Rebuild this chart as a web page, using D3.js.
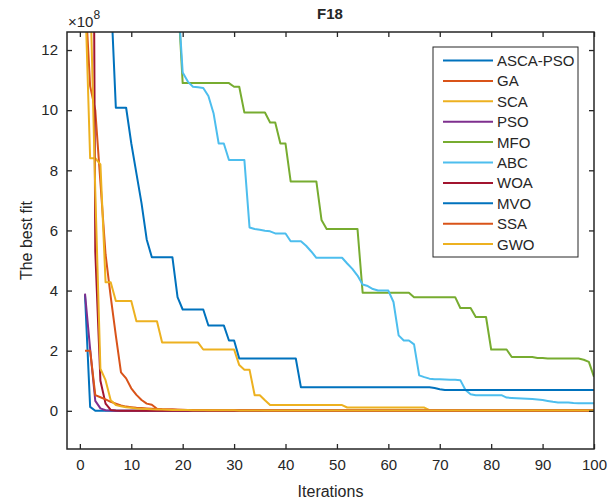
<!DOCTYPE html>
<html>
<head>
<meta charset="utf-8">
<script src="https://cdn.jsdelivr.net/npm/d3@7"></script>
<style>
body { margin: 0; background: #fff; }
text { font-family: "Liberation Sans", Arial, Helvetica, sans-serif; fill: #262626; }
</style>
</head>
<body>
<svg width="610" height="501"></svg>
<script>
// values in units of 1e8, iterations 1..100
var names = ["ASCA-PSO", "GA", "SCA", "PSO", "MFO", "ABC", "WOA", "MVO", "SSA", "GWO"];
var colors = ["#0072BD", "#D95319", "#EDB120", "#7E2F8E", "#77AC30", "#4DBEEE", "#A2142F", "#0072BD", "#D95319", "#EDB120"];
var xTicks = [0, 10, 20, 30, 40, 50, 60, 70, 80, 90, 100];
var yTicks = [0, 2, 4, 6, 8, 10, 12];

var ascaPso = [3.85,0.13,0,0,0,0,0,0,0,0, 0,0,0,0,0,0,0,0,0,0, 0,0,0,0,0,0,0,0,0,0, 0,0,0,0,0,0,0,0,0,0,
  0,0,0,0,0,0,0,0,0,0, 0,0,0,0,0,0,0,0,0,0, 0,0,0,0,0,0,0,0,0,0, 0,0,0,0,0,0,0,0,0,0,
  0,0,0,0,0,0,0,0,0,0, 0,0,0,0,0,0,0,0,0,0];
var ga = [14,10.8,10.0,7.6,5.2,3.8,2.5,1.28,1.08,0.75, 0.53,0.36,0.24,0.2,0.07,0.05,0.045,0.04,0.035,0.03,
  0.03,0.028,0.026,0.025,0.024,0.023,0.022,0.021,0.02,0.02, 0.02,0.019,0.019,0.018,0.018,0.017,0.017,0.016,0.016,0.015,
  0.015,0.015,0.014,0.014,0.014,0.013,0.013,0.013,0.012,0.012, 0.012,0.012,0.011,0.011,0.011,0.011,0.011,0.01,0.01,0.01,
  0.01,0.01,0.01,0.01,0.01,0.01,0.01,0.01,0.01,0.01, 0.01,0.01,0.01,0.01,0.01,0.01,0.01,0.01,0.01,0.01,
  0.01,0.01,0.01,0.01,0.01,0.01,0.01,0.01,0.01,0.01, 0.01,0.01,0.01,0.01,0.01,0.01,0.01,0.01,0.01,0.01];
var sca = [14,8.4,8.4,8.2,4.28,4.28,3.65,3.65,3.65,3.65, 2.98,2.98,2.98,2.98,2.98,2.27,2.27,2.27,2.27,2.27,
  2.27,2.27,2.27,2.04,2.04,2.04,2.04,2.04,2.04,2.04, 1.52,1.37,1.37,0.52,0.52,0.35,0.19,0.19,0.19,0.19,
  0.19,0.19,0.19,0.19,0.19,0.19,0.19,0.19,0.19,0.19, 0.19,0.11,0.11,0.11,0.11,0.11,0.11,0.11,0.11,0.11,
  0.11,0.11,0.11,0.11,0.11,0.11,0.11,0.02,0.02,0.02, 0.02,0.02,0.02,0.02,0.02,0.02,0.02,0.02,0.02,0.02,
  0.02,0.02,0.02,0.02,0.02,0.02,0.02,0.02,0.02,0.02, 0.02,0.02,0.02,0.02,0.02,0.02,0.02,0.02,0.02,0.02];
var pso = [3.9,2.05,0.33,0.08,0.02,0.01,0,0,0,0, 0,0,0,0,0,0,0,0,0,0, 0,0,0,0,0,0,0,0,0,0, 0,0,0,0,0,0,0,0,0,0,
  0,0,0,0,0,0,0,0,0,0, 0,0,0,0,0,0,0,0,0,0, 0,0,0,0,0,0,0,0,0,0, 0,0,0,0,0,0,0,0,0,0,
  0,0,0,0,0,0,0,0,0,0, 0,0,0,0,0,0,0,0,0,0];
var mfo = [14,14,14,14,14,14,14,14,14,14, 14,14,14,14,14,14,14,14,14,10.9,
  10.9,10.9,10.9,10.9,10.9,10.9,10.9,10.9,10.9,10.78, 10.78,9.92,9.92,9.92,9.92,9.92,9.59,9.59,8.89,8.89,
  7.63,7.63,7.63,7.63,7.63,7.63,6.35,6.05,6.05,6.05, 6.05,6.05,6.05,6.05,3.93,3.93,3.93,3.93,3.93,3.93,
  3.93,3.93,3.93,3.93,3.78,3.78,3.78,3.78,3.78,3.78, 3.78,3.78,3.78,3.42,3.42,3.42,3.12,3.12,3.12,2.04,
  2.04,2.04,2.04,1.79,1.79,1.79,1.79,1.79,1.76,1.76, 1.74,1.74,1.74,1.74,1.74,1.74,1.74,1.7,1.63,1.13];
var abc = [14,14,14,14,14,14,14,14,14,14, 14,14,14,14,14,14,14,14,14,11.25,
  10.95,10.78,10.76,10.74,10.47,9.9,8.89,8.89,8.34,8.34, 8.34,8.34,6.1,6.05,6.02,5.99,5.97,5.9,5.9,5.9,
  5.64,5.64,5.64,5.49,5.3,5.09,5.09,5.09,5.09,5.09, 5.09,4.9,4.72,4.5,4.2,4.15,4.05,4.0,4.0,4.0,
  3.62,2.51,2.34,2.34,2.21,1.18,1.12,1.07,1.05,1.05, 1.04,1.03,1.03,1.02,0.69,0.55,0.52,0.52,0.52,0.52,
  0.52,0.52,0.44,0.43,0.42,0.41,0.4,0.39,0.38,0.36, 0.33,0.3,0.28,0.28,0.28,0.26,0.25,0.25,0.25,0.25];
var woa = [40,40,5.3,1.0,0.24,0.03,0.01,0,0,0, 0,0,0,0,0,0,0,0,0,0, 0,0,0,0,0,0,0,0,0,0, 0,0,0,0,0,0,0,0,0,0,
  0,0,0,0,0,0,0,0,0,0, 0,0,0,0,0,0,0,0,0,0, 0,0,0,0,0,0,0,0,0,0, 0,0,0,0,0,0,0,0,0,0,
  0,0,0,0,0,0,0,0,0,0, 0,0,0,0,0,0,0,0,0,0];
var mvo = [14,14,14,14,14,14,10.08,10.08,10.08,8.9, 7.9,6.9,5.7,5.11,5.11,5.11,5.11,5.11,3.78,3.37,
  3.37,3.37,3.37,3.37,2.84,2.84,2.84,2.84,2.34,2.34, 1.74,1.74,1.74,1.74,1.74,1.74,1.74,1.74,1.74,1.74,
  1.74,1.74,0.78,0.78,0.78,0.78,0.78,0.78,0.78,0.78, 0.78,0.78,0.78,0.78,0.78,0.78,0.78,0.78,0.78,0.78,
  0.78,0.78,0.78,0.78,0.78,0.78,0.78,0.78,0.76,0.72, 0.69,0.69,0.69,0.69,0.69,0.69,0.69,0.69,0.69,0.69,
  0.69,0.69,0.69,0.69,0.69,0.69,0.69,0.69,0.69,0.69, 0.69,0.69,0.69,0.69,0.69,0.69,0.69,0.69,0.69,0.69];
var ssa = [2.0,2.0,0.52,0.45,0.38,0.3,0.24,0.18,0.14,0.12, 0.1,0.09,0.08,0.07,0.06,0.05,0.045,0.04,0.037,0.034,
  0.031,0.029,0.027,0.025,0.023,0.022,0.021,0.02,0.019,0.018, 0.017,0.016,0.016,0.015,0.015,0.014,0.014,0.013,0.013,0.013,
  0.012,0.012,0.012,0.011,0.011,0.011,0.011,0.01,0.01,0.01, 0.01,0.01,0.01,0.01,0.01,0.01,0.01,0.01,0.01,0.01,
  0.01,0.01,0.01,0.01,0.01,0.01,0.01,0.01,0.01,0.01, 0.01,0.01,0.01,0.01,0.01,0.01,0.01,0.01,0.01,0.01,
  0.01,0.01,0.01,0.01,0.01,0.01,0.01,0.01,0.01,0.01, 0.01,0.01,0.01,0.01,0.01,0.01,0.01,0.01,0.01,0.01];
var gwo = [14,14.2,7.3,1.4,1.02,0.35,0.19,0.15,0.12,0.1, 0.08,0.07,0.06,0.05,0.045,0.04,0.035,0.03,0.028,0.026,
  0.024,0.022,0.02,0.02,0.019,0.018,0.017,0.016,0.015,0.015, 0.014,0.014,0.013,0.013,0.012,0.012,0.012,0.011,0.011,0.011,
  0.01,0.01,0.01,0.01,0.01,0.01,0.01,0.01,0.01,0.01, 0.01,0.01,0.01,0.01,0.01,0.01,0.01,0.01,0.01,0.01,
  0.01,0.01,0.01,0.01,0.01,0.01,0.01,0.01,0.01,0.01, 0.01,0.01,0.01,0.01,0.01,0.01,0.01,0.01,0.01,0.01,
  0.01,0.01,0.01,0.01,0.01,0.01,0.01,0.01,0.01,0.01, 0.01,0.01,0.01,0.01,0.01,0.01,0.01,0.01,0.01,0.01];

var series = [ascaPso, ga, sca, pso, mfo, abc, woa, mvo, ssa, gwo];

var svg = d3.select("svg");

// plot box
var pL = 67, pR = 594, pT = 32, pB = 449;

var x = d3.scaleLinear().domain([-2.5, 100]).range([pL, pR]);
var y = d3.scaleLinear().domain([-1.27, 12.6]).range([pB, pT]);

svg.append("rect").attr("width", 610).attr("height", 501).attr("fill", "#fff");

svg.append("clipPath").attr("id", "clip")
  .append("rect").attr("x", pL).attr("y", pT).attr("width", pR - pL).attr("height", pB - pT);

// lines
var line = d3.line()
  .x((d, i) => x(i + 1))
  .y(d => y(d));

svg.append("g").attr("clip-path", "url(#clip)")
  .selectAll("path")
  .data(series)
  .enter().append("path")
  .attr("d", line)
  .attr("fill", "none")
  .attr("stroke", (d, i) => colors[i])
  .attr("stroke-width", 2)
  .attr("stroke-linejoin", "round");

// axes, MATLAB style ticks inside on all four sides
var tk = 5;
var axisColor = "#262626";

svg.append("g").attr("transform", `translate(0,${pB})`)
  .call(d3.axisBottom(x).tickValues(xTicks).tickSize(-tk).tickPadding(10))
  .call(g => g.select(".domain").remove());
svg.append("g").attr("transform", `translate(0,${pT})`)
  .call(d3.axisTop(x).tickValues(xTicks).tickSize(-tk).tickFormat(""))
  .call(g => g.select(".domain").remove());
svg.append("g").attr("transform", `translate(${pL},0)`)
  .call(d3.axisLeft(y).tickValues(yTicks).tickSize(-tk).tickPadding(9))
  .call(g => g.select(".domain").remove());
svg.append("g").attr("transform", `translate(${pR},0)`)
  .call(d3.axisRight(y).tickValues(yTicks).tickSize(-tk).tickFormat(""))
  .call(g => g.select(".domain").remove());

svg.selectAll(".tick line").attr("stroke", axisColor).attr("stroke-width", 1.3);
svg.selectAll(".tick text").style("font-size", "15px").attr("fill", axisColor)
  .style("font-family", "'Liberation Sans', Arial, sans-serif");

svg.append("rect")
  .attr("x", pL).attr("y", pT)
  .attr("width", pR - pL).attr("height", pB - pT)
  .attr("fill", "none").attr("stroke", axisColor).attr("stroke-width", 1.5);

// labels
svg.append("text").attr("x", 330).attr("y", 19).attr("text-anchor", "middle")
  .style("font-size", "15px").style("font-weight", "bold").text("F18");
svg.append("text").attr("x", (pL + pR) / 2).attr("y", 497).attr("text-anchor", "middle")
  .style("font-size", "16px").text("Iterations");
svg.append("text").attr("transform", `translate(32,${(pT + pB) / 2}) rotate(-90)`)
  .attr("text-anchor", "middle").style("font-size", "16px").text("The best fit");

var expo = svg.append("text").attr("x", 68).attr("y", 27).style("font-size", "15px");
expo.append("tspan").text("\u00d710");
expo.append("tspan").attr("dy", -8).style("font-size", "12px").text("8");

// legend
var legend = svg.append("g").attr("id", "legend");
legend.append("rect")
  .attr("x", 433).attr("y", 47).attr("width", 145).attr("height", 210)
  .attr("fill", "#fff").attr("stroke", axisColor).attr("stroke-width", 1);

var entries = legend.selectAll("g.entry")
  .data(names)
  .enter().append("g")
  .attr("transform", (d, i) => `translate(0,${60.5 + i * 20.4})`);
entries.append("line")
  .attr("x1", 443).attr("x2", 493)
  .attr("stroke", (d, i) => colors[i]).attr("stroke-width", 2);
entries.append("text")
  .attr("x", 497).attr("y", 5.5)
  .style("font-size", "15px")
  .text(d => d);
</script>
</body>
</html>
